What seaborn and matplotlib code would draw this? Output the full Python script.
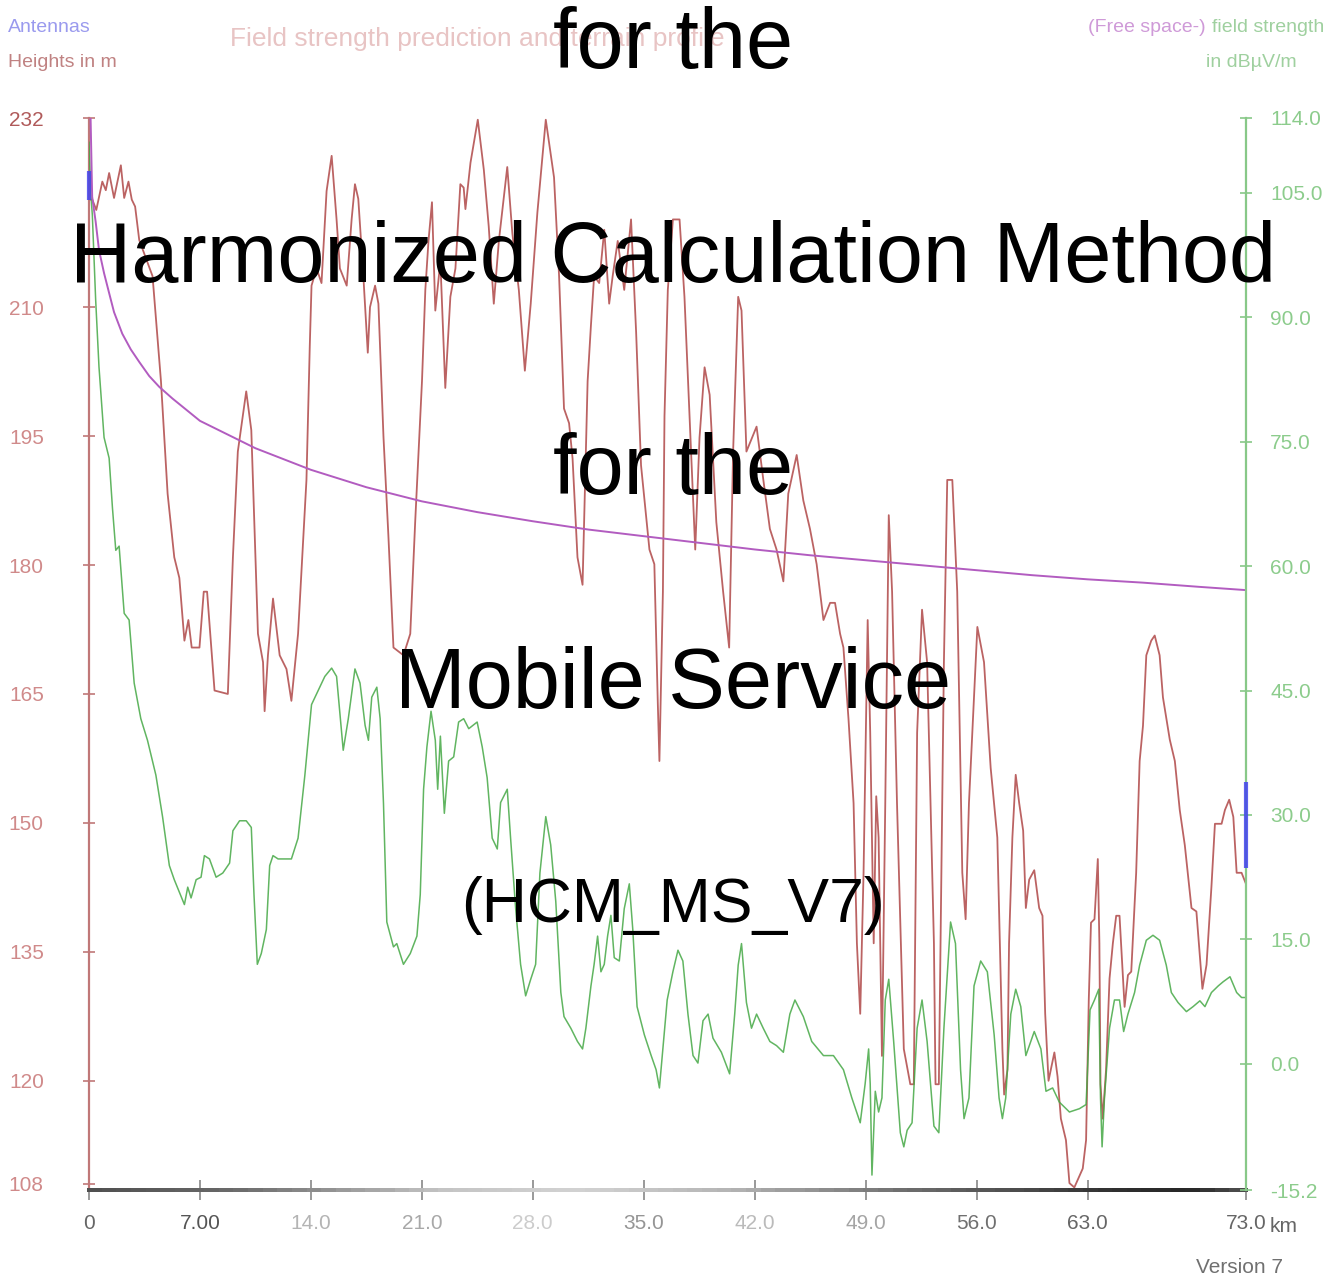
import matplotlib
matplotlib.use("Agg")
import matplotlib.pyplot as plt
import seaborn as sns
import numpy as np
from matplotlib import font_manager
from matplotlib.collections import LineCollection
from matplotlib.colors import LinearSegmentedColormap

# ---------------- data ----------------
terrain_km = [0.0, 0.21, 0.46, 0.84, 1.06, 1.27, 1.58, 2.01, 2.22, 2.49, 2.70, 2.91, 3.17, 4.01, 4.54,
              4.96, 5.38, 5.70, 6.02, 6.27, 6.48, 6.97, 7.24, 7.45, 7.92, 8.76, 9.08, 9.39, 9.92, 10.24,
              10.66, 10.98, 11.08, 11.29, 11.61, 12.03, 12.46, 12.77, 13.19, 13.72, 13.93, 14.04, 14.36,
              14.67, 14.99, 15.31, 15.62, 15.83, 16.26, 16.57, 16.78, 16.99, 17.31, 17.59, 17.73, 18.05,
              18.26, 18.58, 18.89, 19.21, 19.84, 20.27, 20.58, 21.01, 21.22, 21.42, 21.64, 21.85, 22.17,
              22.48, 22.80, 23.12, 23.43, 23.64, 23.75, 24.07, 24.53, 24.91, 25.22, 25.54, 25.86, 26.39,
              26.71, 27.12, 27.50, 27.87, 28.29, 28.82, 29.34, 29.66, 29.97, 30.29, 30.51, 30.82, 31.14,
              31.46, 31.67, 31.87, 32.19, 32.51, 32.82, 33.04, 33.36, 33.77, 34.20, 34.52, 34.83, 35.36,
              35.67, 35.89, 35.99, 36.21, 36.31, 36.52, 36.84, 37.26, 37.57, 37.89, 38.25, 38.52, 38.84,
              39.16, 39.58, 40.01, 40.39, 40.64, 40.96, 41.17, 41.48, 42.12, 42.54, 42.96, 43.38, 43.81,
              44.12, 44.65, 45.07, 45.49, 45.91, 46.34, 46.76, 47.07, 47.39, 47.60, 47.92, 48.24, 48.45,
              48.66, 48.87, 49.13, 49.29, 49.51, 49.67, 49.82, 50.03, 50.24, 50.46, 50.67, 50.98, 51.41,
              51.82, 52.04, 52.25, 52.56, 52.88, 53.31, 53.41, 53.62, 53.94, 54.15, 54.47, 54.78, 55.10,
              55.31, 55.52, 56.05, 56.47, 56.89, 57.31, 57.63, 57.74, 57.95, 58.05, 58.26, 58.47, 58.69,
              58.94, 59.11, 59.32, 59.64, 59.95, 60.16, 60.33, 60.54, 60.91, 61.11, 61.32, 61.64, 61.86,
              62.17, 62.70, 62.91, 63.08, 63.22, 63.44, 63.65, 63.75, 63.82, 63.96, 64.17, 64.39, 64.60,
              64.81, 65.02, 65.34, 65.55, 65.76, 66.07, 66.29, 66.50, 66.71, 67.02, 67.24, 67.55, 67.76,
              68.19, 68.51, 68.82, 69.14, 69.56, 69.87, 70.25, 70.51, 70.82, 71.04, 71.46, 71.67, 71.94,
              72.20, 72.41, 72.72, 73.0]
terrain_m = [222.5, 222.5, 221.3, 224.6, 223.6, 225.6, 222.7, 226.5, 222.7, 224.6, 222.5, 221.7, 217.8,
             213.6, 201.4, 188.3, 180.9, 178.5, 171.2, 173.6, 170.4, 170.4, 176.9, 176.9, 165.4, 165.0,
             180.9, 193.2, 200.2, 195.7, 172.0, 168.7, 163.0, 169.5, 176.1, 169.5, 167.9, 164.2, 172.0,
             189.9, 205.5, 212.5, 214.5, 212.8, 223.5, 227.6, 220.2, 214.5, 212.5, 220.2, 224.3, 222.6,
             213.6, 204.7, 210.0, 212.5, 210.4, 194.9, 183.4, 170.4, 169.5, 172.0, 185.0, 201.4, 212.0,
             217.7, 222.2, 209.6, 215.3, 200.6, 211.2, 214.5, 224.3, 223.9, 221.4, 226.8, 231.8, 226.0,
             219.4, 210.4, 217.7, 226.3, 218.6, 212.0, 202.6, 210.4, 221.0, 231.8, 225.1, 213.6, 198.2,
             196.5, 192.4, 180.9, 177.7, 201.4, 207.9, 213.6, 212.8, 219.0, 210.4, 213.6, 217.7, 212.0,
             220.2, 207.1, 191.6, 181.8, 180.1, 163.8, 157.2, 176.9, 197.3, 212.0, 220.2, 220.2, 211.2,
             197.3, 181.8, 194.8, 203.0, 199.8, 185.0, 176.9, 170.4, 193.2, 211.2, 209.6, 193.2, 196.1,
             190.0, 184.2, 181.8, 178.1, 188.3, 192.8, 187.5, 184.2, 180.1, 173.6, 175.6, 175.6, 172.0,
             170.4, 162.1, 152.3, 136.0, 127.8, 144.2, 173.6, 160.5, 136.0, 153.1, 148.3, 122.9, 152.3,
             185.8, 176.9, 152.3, 123.7, 119.6, 119.6, 160.5, 174.8, 168.7, 136.0, 119.6, 119.6, 168.7,
             189.9, 189.9, 176.9, 144.2, 138.8, 152.3, 172.8, 168.7, 156.4, 148.3, 123.7, 118.4, 121.3,
             136.0, 148.3, 155.6, 152.3, 149.1, 140.1, 143.4, 144.5, 140.1, 139.2, 127.8, 120.0, 123.3,
             120.5, 115.6, 113.1, 108.1, 107.6, 109.8, 113.1, 129.4, 138.4, 138.8, 145.8, 136.0, 119.6,
             115.6, 121.3, 131.9, 136.0, 139.2, 139.2, 128.6, 132.3, 132.7, 144.2, 157.2, 161.3, 169.5,
             171.2, 171.8, 169.5, 164.6, 159.7, 157.2, 151.5, 147.4, 140.1, 139.7, 130.7, 133.5, 142.6,
             149.9, 149.9, 151.5, 152.7, 150.7, 144.2, 144.2, 142.9]

field_km = [0.0, 0.11, 0.21, 0.42, 0.63, 0.82, 0.95, 1.27, 1.48, 1.69, 1.90, 2.22, 2.53, 2.85, 3.27, 3.69,
            4.22, 4.64, 5.07, 5.38, 6.02, 6.23, 6.44, 6.76, 7.07, 7.28, 7.60, 8.02, 8.44, 8.87, 9.08, 9.50,
            9.92, 10.24, 10.41, 10.62, 10.87, 11.19, 11.40, 11.61, 11.93, 12.77, 13.19, 13.62, 14.04, 14.46,
            14.88, 15.31, 15.62, 16.04, 16.36, 16.78, 17.10, 17.42, 17.63, 17.84, 18.16, 18.37, 18.58, 18.79,
            19.21, 19.42, 19.84, 20.27, 20.69, 20.90, 21.11, 21.32, 21.58, 21.85, 22.00, 22.17, 22.42, 22.69,
            23.01, 23.32, 23.64, 23.96, 24.49, 24.81, 25.12, 25.44, 25.76, 25.97, 26.39, 26.60, 26.92, 27.23,
            27.55, 27.87, 28.18, 28.45, 28.82, 29.13, 29.45, 29.77, 29.97, 30.40, 30.82, 31.14, 31.35, 31.67,
            31.87, 32.09, 32.30, 32.51, 32.72, 32.93, 33.14, 33.46, 33.77, 34.09, 34.31, 34.58, 35.04, 35.47,
            35.78, 35.99, 36.21, 36.48, 36.84, 37.16, 37.47, 37.79, 38.11, 38.42, 38.74, 39.06, 39.37, 39.90,
            40.42, 40.74, 40.96, 41.17, 41.48, 41.80, 42.12, 42.54, 42.96, 43.38, 43.81, 44.22, 44.54, 45.07,
            45.60, 46.34, 46.97, 47.60, 48.13, 48.66, 48.97, 49.19, 49.29, 49.40, 49.61, 49.82, 50.03, 50.24,
            50.46, 50.77, 51.19, 51.41, 51.62, 51.93, 52.25, 52.56, 52.88, 53.31, 53.62, 53.94, 54.36, 54.67,
            54.99, 55.21, 55.52, 55.84, 56.26, 56.68, 57.11, 57.42, 57.63, 57.84, 57.95, 58.16, 58.47, 58.79,
            59.11, 59.64, 60.06, 60.38, 60.80, 61.22, 61.86, 62.49, 62.91, 63.16, 63.44, 63.71, 63.82, 63.92,
            64.07, 64.39, 64.70, 65.02, 65.28, 65.55, 65.97, 66.29, 66.71, 67.13, 67.55, 67.97, 68.29, 68.71,
            69.24, 69.66, 70.09, 70.41, 70.82, 71.25, 71.56, 71.99, 72.41, 72.72, 73.0]
field_dbuv = [111.1, 105.0, 102.3, 92.1, 84.0, 78.9, 75.5, 73.0, 67.0, 61.9, 62.4, 54.3, 53.5, 45.9, 41.6,
              39.0, 34.8, 29.8, 23.9, 22.2, 19.2, 21.3, 20.0, 22.2, 22.5, 25.1, 24.7, 22.5, 23.0, 24.2, 28.1,
              29.3, 29.3, 28.5, 20.4, 12.0, 13.3, 16.2, 23.9, 25.1, 24.7, 24.7, 27.2, 34.8, 43.3, 45.0, 46.7,
              47.7, 46.7, 37.8, 41.6, 47.6, 45.9, 40.8, 39.0, 44.2, 45.4, 41.6, 31.4, 17.1, 14.1, 14.5, 12.0,
              13.3, 15.4, 20.4, 33.1, 38.2, 42.5, 39.0, 33.1, 39.5, 30.2, 36.5, 37.0, 41.2, 41.6, 40.4, 41.2,
              38.2, 34.5, 27.2, 25.9, 31.5, 33.1, 27.2, 18.7, 12.0, 8.2, 10.2, 12.0, 23.0, 29.8, 26.4, 19.6,
              8.6, 5.7, 4.3, 2.7, 1.8, 4.3, 9.4, 12.0, 15.4, 11.1, 12.0, 15.4, 17.9, 12.8, 12.4, 18.7, 21.7,
              16.2, 6.9, 3.5, 1.0, -0.7, -2.9, 1.8, 7.7, 11.1, 13.7, 12.4, 6.0, 1.0, 0.1, 5.2, 6.0, 3.1, 1.4,
              -1.2, 6.0, 11.9, 14.5, 7.4, 4.3, 6.0, 4.3, 2.7, 2.2, 1.4, 6.0, 7.7, 5.7, 2.7, 1.0, 1.0, -0.7,
              -4.1, -7.1, -2.4, 1.8, -2.4, -13.4, -3.3, -5.8, -4.1, 7.7, 10.2, 2.7, -8.3, -10.0, -8.0, -7.1,
              4.3, 7.7, 2.7, -7.5, -8.3, 4.3, 17.1, 14.5, -0.7, -6.6, -4.1, 9.4, 12.4, 11.1, 3.5, -4.1, -6.6,
              -4.1, -0.7, 6.0, 9.0, 6.9, 1.0, 3.9, 1.8, -3.3, -2.9, -4.6, -5.8, -5.4, -4.9, 6.5, 7.7, 9.0,
              -4.1, -10.0, -4.1, 4.3, 7.7, 7.7, 3.9, 6.0, 8.6, 11.9, 14.9, 15.5, 14.9, 11.9, 8.6, 7.4, 6.3,
              6.9, 7.6, 6.9, 8.6, 9.4, 9.9, 10.5, 8.6, 8.0, 8.0]

freespace_km = [0.1, 0.2, 0.42, 0.63, 0.95, 1.27, 1.58, 2.1, 2.64, 3.17, 3.8, 4.43, 5.26, 7.0, 10.5, 14.0,
                17.5, 21.0, 24.5, 28.0, 31.5, 35.0, 38.5, 42.0, 45.5, 49.0, 52.5, 56.0, 59.5, 63.0, 66.5,
                70.0, 73.0]
freespace_dbuv = [114.0, 104.5, 101.5, 98.1, 95.3, 92.9, 90.6, 88.0, 86.1, 84.6, 82.9, 81.6, 80.2, 77.5,
                  74.2, 71.6, 69.5, 67.8, 66.5, 65.4, 64.4, 63.6, 62.8, 62.0, 61.3, 60.7, 60.1, 59.5, 58.9,
                  58.4, 58.0, 57.5, 57.1]

antenna_km = [0.0, 73.0]
antenna_base_m = [222.5, 144.8]
antenna_top_m = [225.8, 154.8]

x_ticks = [0, 7, 14, 21, 28, 35, 42, 49, 56, 63, 73]
x_tick_labels = ["0", "7.00", "14.0", "21.0", "28.0", "35.0", "42.0", "49.0", "56.0", "63.0", "73.0"]
left_ticks = [232, 210, 195, 180, 165, 150, 135, 120, 108]
right_ticks = [114.0, 105.0, 90.0, 75.0, 60.0, 45.0, 30.0, 15.0, 0.0, -15.2]

# ---------------- style ----------------
sns.set_theme(style="white")
names = {f.name for f in font_manager.fontManager.ttflist}
NARROW = ["Liberation Sans Narrow", "DejaVu Sans"] if "Liberation Sans Narrow" in names else ["Liberation Sans", "DejaVu Sans"]
BIG = ["Liberation Sans", "DejaVu Sans"]
plt.rcParams['font.family'] = NARROW

W, H = 1333, 1277
fig = plt.figure(figsize=(W / 100, H / 100), dpi=100)
fig.patch.set_facecolor("white")
L, R, T, B = 89, 1246, 118, 1190
ax1 = fig.add_axes([L / W, 1 - B / H, (R - L) / W, (B - T) / H])
ax2 = ax1.twinx()

terrain_c = "#b04848"
green_c = "#45a845"
purple_c = "#b25cc0"

sns.lineplot(x=np.array(terrain_km), y=np.array(terrain_m), ax=ax1, color=terrain_c, lw=1.3,
             sort=False, estimator=None, alpha=0.85)

sns.lineplot(x=np.array(field_km), y=np.array(field_dbuv), ax=ax2, color=green_c, lw=1.1,
             sort=False, estimator=None, alpha=0.85)
sns.lineplot(x=np.array(freespace_km), y=np.array(freespace_dbuv), ax=ax2, color=purple_c, lw=1.4,
             sort=False, estimator=None)
# antennas drawn on the top axes (heights transformed from the left axis)
ant = ax2.vlines(antenna_km, antenna_base_m, antenna_top_m, color="#4444ee", lw=3.0, alpha=0.85,
                 zorder=8, clip_on=False)
ant.set_transform(ax1.transData)

ax1.set_xlim(0, 73)
ax1.set_ylim(107.3, 232)
ax2.set_ylim(-15.2, 114.0)
for a in (ax1, ax2):
    a.set_xlabel("")
    a.set_ylabel("")
    a.grid(False)
    a.spines["top"].set_visible(False)
ax1.spines["right"].set_visible(False)
ax2.spines["left"].set_visible(False)
ax2.spines["bottom"].set_visible(False)
ax1.spines["bottom"].set_visible(False)
ax1.spines["left"].set_color("#c07878")
ax1.spines["left"].set_linewidth(1.6)
ax2.spines["right"].set_color("#88c888")
ax2.spines["right"].set_linewidth(1.6)

# gradient grey bottom axis line (as in the original software)
gx = np.linspace(0, 1, 80)
segs = [[(gx[i], 0), (gx[i + 1], 0)] for i in range(len(gx) - 1)]
gcmap = LinearSegmentedColormap.from_list(
    "axisgrey", [(0.0, "#505050"), (0.12, "#6a6a6a"), (0.3, "#c4c4c4"), (0.42, "#d2d2d2"),
                 (0.55, "#b4b4b4"), (0.7, "#6e6e6e"), (0.88, "#303030"), (0.95, "#262626"),
                 (1.0, "#555555")])
lc = LineCollection(segs, colors=gcmap(gx[:-1]), linewidths=1.5, transform=ax1.transAxes,
                    clip_on=False, zorder=6, capstyle="projecting", antialiaseds=False)
ax1.add_collection(lc)

ax1.set_xticks(x_ticks)
ax1.set_xticklabels(x_tick_labels)
x_colors = ["#666666", "#555555", "#b4b4b4", "#a8a8a8", "#cccccc", "#959595", "#bbbbbb", "#a5a5a5",
            "#707070", "#666666", "#666666"]
for lab, c in zip(ax1.get_xticklabels(), x_colors):
    lab.set_color(c)
ax1.tick_params(axis="x", direction="inout", length=14, width=1.2, color="#888888", pad=10,
                labelsize=15, bottom=True)

ax1.set_yticks(left_ticks)
ax1.set_yticklabels([str(t) for t in left_ticks])
ax1.tick_params(axis="y", direction="inout", length=9, width=1.2, color="#c07878", pad=28,
                labelsize=15, labelcolor="#d08a8a", left=True)
ax1.get_yticklabels()[0].set_color("#b05a5a")

ax2.set_yticks(right_ticks)
ax2.set_yticklabels([f"{t:.1f}" for t in right_ticks])
ax2.tick_params(axis="y", direction="inout", length=9, width=1.2, color="#88c888", pad=13,
                labelsize=15, labelcolor="#8ccc8c", right=True)

def ftext(x, y, s, **kw):
    fig.text(x / W, 1 - y / H, s, **kw)

ftext(1270, 1232, "km", ha="left", va="baseline", fontsize=15, color="#666666")
ftext(8, 32, "Antennas", ha="left", va="baseline", fontsize=14, color="#9a9aee")
ftext(8, 67, "Heights in m", ha="left", va="baseline", fontsize=14, color="#c08282")
ftext(230, 46, "Field strength prediction and terrain profile", ha="left", va="baseline",
      fontsize=19, color="#e8c4c4")
ftext(1206, 32, "(Free space-)", ha="right", va="baseline", fontsize=14, color="#cf9ad8")
ftext(1212, 32, "field strength", ha="left", va="baseline", fontsize=14, color="#9fd09f")
ftext(1297, 67, "in dBµV/m", ha="right", va="baseline", fontsize=14, color="#9fd09f")
ftext(1283, 1273, "Version 7", ha="right", va="baseline", fontsize=15, color="#707070")

big = dict(ha="center", va="baseline", color="black", family=BIG, zorder=10)
ftext(673, 68, "for the", fontsize=61, **big)
ftext(673, 282, "Harmonized Calculation Method", fontsize=61, **big)
ftext(673, 494, "for the", fontsize=61, **big)
ftext(673, 708, "Mobile Service", fontsize=61, **big)
ftext(673, 922, "(HCM_MS_V7)", fontsize=45, **big)

fig.savefig("out.png", dpi=100, facecolor="white")
